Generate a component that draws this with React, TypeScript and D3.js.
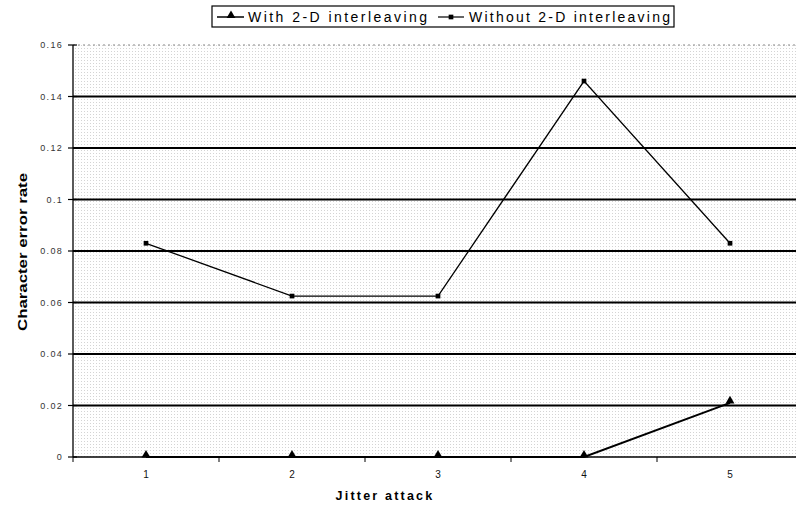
import React from "react";
import * as d3 from "d3";

const categories = ["1", "2", "3", "4", "5"];
const withInterleaving = [0, 0, 0, 0, 0.021];
const withoutInterleaving = [0.083, 0.0625, 0.0625, 0.146, 0.083];
const yTicks = [0, 0.02, 0.04, 0.06, 0.08, 0.1, 0.12, 0.14, 0.16];
const yTickLabels = ["0", "0.02", "0.04", "0.06", "0.08", "0.1", "0.12", "0.14", "0.16"];
const seriesNames = ["With 2-D interleaving", "Without 2-D interleaving"];
const xTitle = "Jitter attack";
const yTitle = "Character error rate";

export default function App() {
  const W = 796;
  const H = 506;
  const left = 73;
  const top = 45;
  const bottom = 457;
  const step = 146;
  const x = d3.scaleBand<string>().domain(categories).range([left, left + step * categories.length]);
  const y = d3.scaleLinear().domain([0, 0.16]).range([bottom, top]);
  const cx = (c: string) => (x(c) as number) + x.bandwidth() / 2;
  const line = d3
    .line<number>()
    .x((_, i) => cx(categories[i]))
    .y((d) => y(d));
  const tri = d3.symbol(d3.symbolTriangle, 34)() as string;
  const sq = d3.symbol(d3.symbolSquare, 22)() as string;
  const font = "'Liberation Sans', Arial, sans-serif";

  return (
    <svg
      width={W}
      height={H}
      style={{ position: "absolute", left: 0, top: 0, background: "#fff" }}
      fontFamily={font}
    >
      <defs>
        <pattern id="stip" width="3" height="3" patternUnits="userSpaceOnUse">
          <rect x="0" y="0" width="1" height="1" fill="#b8b8b8" />
        </pattern>
      </defs>
      <rect x={left} y={top} width={W - left} height={bottom - top} fill="url(#stip)" opacity={0.6} />
      <line x1={left} x2={W} y1={y(0.16)} y2={y(0.16)} stroke="#888" strokeWidth={1} strokeDasharray="2,3" />
      {yTicks.filter((t) => t > 0 && t < 0.16).map((t) => (
        <line key={t} x1={left} x2={W} y1={y(t)} y2={y(t)} stroke="#000" strokeWidth={1.8} />
      ))}
      <line x1={left} x2={left} y1={top} y2={bottom} stroke="#000" strokeWidth={1.3} />
      {yTicks.map((t, i) => (
        <g key={t}>
          <line x1={left - 5} x2={left + 4} y1={y(t)} y2={y(t)} stroke="#000" strokeWidth={1.2} />
          <text x={63} y={y(t) + 3} textAnchor="end" fontSize={9} letterSpacing={1.3} fill="#333">
            {yTickLabels[i]}
          </text>
        </g>
      ))}
      <line x1={left} x2={W} y1={bottom} y2={bottom} stroke="#000" strokeWidth={1.6} />
      {categories.map((c) => (
        <g key={c}>
          <line x1={x(c) as number} x2={x(c) as number} y1={bottom} y2={bottom + 5} stroke="#000" strokeWidth={1} />
          <text x={cx(c)} y={478} textAnchor="middle" fontSize={10} fill="#111">
            {c}
          </text>
        </g>
      ))}
      <text x={385} y={500} textAnchor="middle" fontSize={12.5} fontWeight="bold" letterSpacing={2.2} fill="#000">
        {xTitle}
      </text>
      <text
        transform={`translate(27,${252}) rotate(-90)`}
        textAnchor="middle"
        fontSize={13.5}
        fontWeight="bold"
        textLength={158}
        lengthAdjust="spacingAndGlyphs"
        fill="#000"
      >
        {yTitle}
      </text>
      <path d={line(withoutInterleaving) as string} fill="none" stroke="#000" strokeWidth={1.3} />
      <path d={line(withInterleaving) as string} fill="none" stroke="#000" strokeWidth={2} />
      {withoutInterleaving.map((v, i) => (
        <path key={"s" + i} d={sq} transform={`translate(${cx(categories[i])},${y(v)})`} fill="#000" />
      ))}
      {withInterleaving.map((v, i) => (
        <path key={"t" + i} d={tri} transform={`translate(${cx(categories[i])},${y(v) - 2})`} fill="#000" />
      ))}
      <rect x={212} y={6} width={462} height={21} fill="#fff" stroke="#000" strokeWidth={1.2} />
      <line x1={217} x2={244} y1={17} y2={17} stroke="#000" strokeWidth={1.5} />
      <path d={tri} transform="translate(231,15.5)" fill="#000" />
      <text x={248} y={22} fontSize={14} textLength={179} lengthAdjust="spacing" fill="#000">
        {seriesNames[0]}
      </text>
      <line x1={438} x2={464} y1={17} y2={17} stroke="#000" strokeWidth={1.2} />
      <path d={sq} transform="translate(451,17)" fill="#000" />
      <text x={469} y={22} fontSize={14} textLength={201} lengthAdjust="spacing" fill="#000">
        {seriesNames[1]}
      </text>
    </svg>
  );
}
